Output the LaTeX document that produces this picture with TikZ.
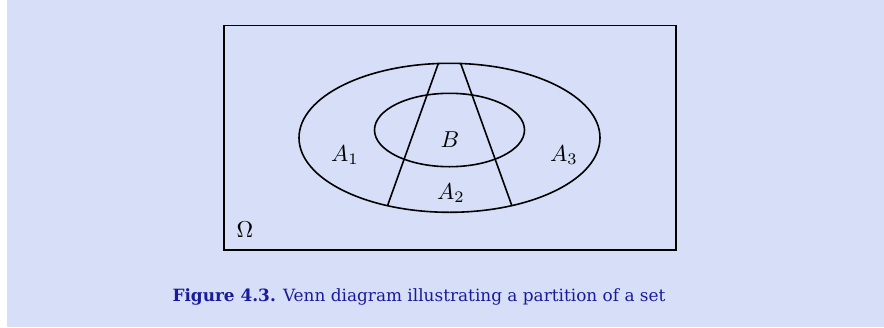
\documentclass[tikz,border=0pt]{standalone}
\usepackage{amsmath}
\usepackage{amssymb}
\usepackage{fontspec}
\usepackage{tikz}
\usetikzlibrary{positioning, calc}
\newfontfamily\captionfont{DejaVu Serif}
\definecolor{panelbg}{HTML}{D6DFF7}
\definecolor{captionblue}{HTML}{1A1A9C}

\begin{document}
\begin{tikzpicture}[x=1pt, y=-1pt, line width=1.6pt,
		setlabel/.style={scale=2.3},
		figcaption/.style={font=\captionfont\fontsize{16.9}{20}\selectfont, text=captionblue}]
		% Picture frame and background panel
		\useasboundingbox (0,0) rectangle (884,327);
		\fill[panelbg] (7,0) rectangle (884,327);
		
		% Define the ellipses (centre and radii)
		\def\cx{449.5}
		\def\cy{137.8}
		\def\rxOut{150.5}
		\def\ryOut{74.5}
		\def\rxIn{75}
		\def\ryIn{36.7}
		
		% Universe Omega
		\draw (224,25.3) rectangle (675.7,250);
		
		% Outer set and the set B
		\draw (\cx,\cy) ellipse [x radius=\rxOut, y radius=\ryOut];
		\draw (\cx,130) ellipse [x radius=\rxIn, y radius=\ryIn];
		
		% Cuts of the partition
		\coordinate (cutOneTop) at (438.3,63.5);
		\coordinate (cutOneBot) at (387.7,205.2);
		\coordinate (cutTwoTop) at (460.7,63.5);
		\coordinate (cutTwoBot) at (511.7,205.2);
		\draw (cutOneTop) -- (cutOneBot);
		\draw (cutTwoTop) -- (cutTwoBot);
		
		% Labels of the sets
		\node[setlabel] (aOne) at (345,155) {$A_1$};
		\node[setlabel] (bSet) at (450,140) {$B$};
		\node[setlabel] (aThree) at (564,155) {$A_3$};
		\node[setlabel] (aTwo) at (451,193) {$A_2$};
		\node[setlabel] (omega) at (245,230) {$\Omega$};
		
		% Caption
		\node[figcaption] (caption) at (419,297) {\textbf{Figure 4.3.} Venn diagram illustrating a partition of a set};
		
	\end{tikzpicture}
\end{document}
